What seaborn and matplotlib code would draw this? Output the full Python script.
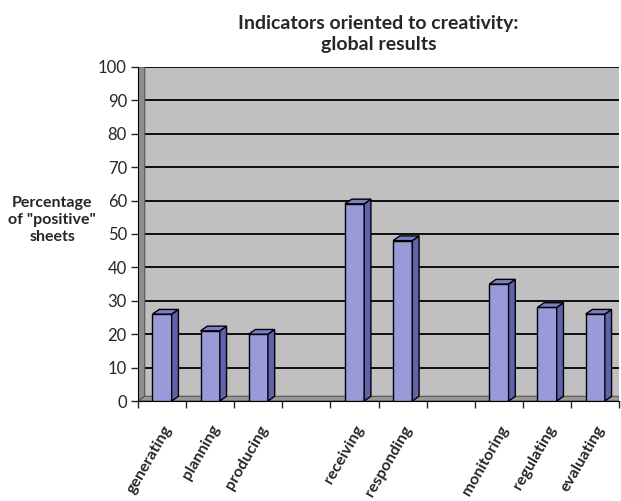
import numpy as np
import pandas as pd
import matplotlib.pyplot as plt
import seaborn as sns
from matplotlib.patches import Polygon
from matplotlib.transforms import ScaledTranslation

# data
slots = ["generating", "planning", "producing", "",
         "receiving", "responding", " ",
         "monitoring", "regulating", "evaluating"]
indicators = ["generating", "planning", "producing",
              "receiving", "responding",
              "monitoring", "regulating", "evaluating"]
percent = [26, 21, 20, 59, 48, 35, 28, 26]

df = pd.DataFrame({"indicator": indicators, "percent": percent})

sns.set_style("white")
plt.rcParams["font.family"] = ["Lato", "DejaVu Sans"]

fig = plt.figure(figsize=(6.21, 5.01), dpi=100)
ax = fig.add_axes([0.2222, 0.1996, 0.775, 0.667])
ax.set_facecolor("#c0c0c0")

front = "#9a9ad8"
side = "#5f62ac"
top = "#7c7fc6"
sns.barplot(data=df, x="indicator", y="percent", order=slots, width=0.4,
            color=front, saturation=1, edgecolor="black", linewidth=1.0,
            ax=ax, zorder=3)

dx, dy = 0.14, 1.4
# pseudo 3d faces
for p in ax.patches[:]:
    x0 = p.get_x()
    x1 = x0 + p.get_width()
    h = p.get_height()
    if np.isnan(h) or h == 0:
        continue
    ax.add_patch(Polygon([(x1, 0), (x1 + dx, dy), (x1 + dx, h + dy), (x1, h)],
                         closed=True, facecolor=side, edgecolor="black", lw=1.0, zorder=3))
    ax.add_patch(Polygon([(x0, h), (x0 + dx, h + dy), (x1 + dx, h + dy), (x1, h)],
                         closed=True, facecolor=top, edgecolor="black", lw=1.0, zorder=3))

ax.set_xlim(-0.5, 9.5)
ax.set_ylim(0, 100)

# walls
ax.add_patch(Polygon([(-0.5, 0), (-0.5 + dx, dy), (-0.5 + dx, 100), (-0.5, 100)],
                     closed=True, facecolor="#8e8e8e", edgecolor="#555555", lw=0.8, zorder=2))
ax.add_patch(Polygon([(-0.5, 0), (-0.5 + dx, dy), (9.5, dy), (9.5, 0)],
                     closed=True, facecolor="#9a9a9a", edgecolor="#555555", lw=0.8, zorder=2))
ax.hlines(np.arange(10, 101, 10), -0.5 + dx, 9.5, colors="black", lw=1.3, zorder=1)

ax.set_yticks(np.arange(0, 101, 10))
ax.tick_params(axis="y", labelsize=12, length=5, width=1, direction="out", left=True, pad=3)
ax.set_xticks(np.arange(-0.5, 10, 1), minor=True)
ax.tick_params(axis="x", which="minor", length=5, width=1, direction="out", bottom=True)
ax.tick_params(axis="x", which="major", length=0, pad=2)
ax.set_xticks(range(len(slots)))
ax.set_xticklabels(slots, rotation=60, ha="right", rotation_mode="anchor",
                   fontsize=11.5, fontweight="bold")
offset = ScaledTranslation(0.0, -0.19, fig.dpi_scale_trans)
for lbl in ax.get_xticklabels():
    lbl.set_transform(lbl.get_transform() + offset)

for s in ["top", "right"]:
    ax.spines[s].set_visible(False)
ax.spines["left"].set_color("black")
ax.spines["bottom"].set_color("black")
ax.set_xlabel("")
ax.set_ylabel("")

ax.set_title("Indicators oriented to creativity:\nglobal results",
             fontsize=14, fontweight="bold", pad=12, linespacing=1.3)
fig.text(0.084, 0.561, 'Percentage\nof "positive"\nsheets', ha="center", va="center",
         fontsize=11.5, fontweight="bold", linespacing=1.25)

fig.savefig("out.png", dpi=100, facecolor="white")
